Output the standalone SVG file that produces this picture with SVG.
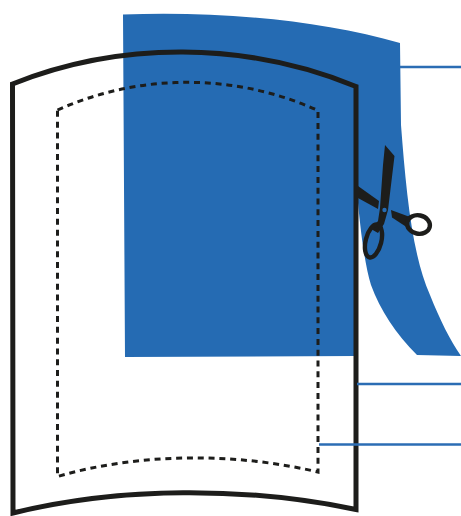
<svg xmlns="http://www.w3.org/2000/svg" width="461" height="516" viewBox="0 0 461 516">
<style>
.blue{fill:#256bb3}
.lead{stroke:#2b6db4;stroke-width:2.4;fill:none}
.outline{fill:none;stroke:#1d1d1b;stroke-width:5;stroke-miterlimit:10}
.dash{fill:none;stroke:#1d1d1b;stroke-width:3;stroke-dasharray:6 4.800}
.ink{fill:#1d1d1b}
.ring{fill:none;stroke:#1d1d1b;stroke-width:4.400}
</style>
<rect width="461" height="516" fill="#fff"/>
<g id="fabric">
<path class="blue" d="M123 14.500C220 11 320 20 400 43L401 125C406 190 412 255 430 295C440 320 450 340 461 356L417 355C396 334 380 310 371 285C364 262 360 225 357 192L356 356L125 357Z"/>
</g>
<g id="garment">
<path class="outline" d="M12.500 84C120 41 245 41 356 86.500V509.500C245 486.500 120 486.500 13 513Z"/>
</g>
<g id="seam">
<path class="dash" d="M57.500 110C140 73 235 73 318 110.500V472C235 452.500 140 452.500 57.500 476.500Z"/>
</g>
<g id="connectors">
<path class="lead" d="M400 67H461"/>
<path class="lead" d="M357 384H461"/>
<path class="lead" d="M319 444.500H461"/>
</g>
<g id="scissors">
<path class="ink" d="M385 145L394.500 156L388 210L384 224L378 233L371 229L378 221L380 208L383 165Z"/>
<path class="ink" d="M358 186L379 201L378 209L358 198Z"/>
<path class="ink" d="M391 210L410 217L408 228L392 217.500Z"/>
<ellipse cx="373.500" cy="241" rx="7.800" ry="16.800" transform="rotate(14 373.500 241)" class="ring"/>
<ellipse cx="418.500" cy="224.500" rx="11.500" ry="9.200" transform="rotate(12 418.500 224.500)" class="ring"/>
<circle cx="384.500" cy="210" r="2.200" fill="#256bb3"/>
</g>
</svg>
